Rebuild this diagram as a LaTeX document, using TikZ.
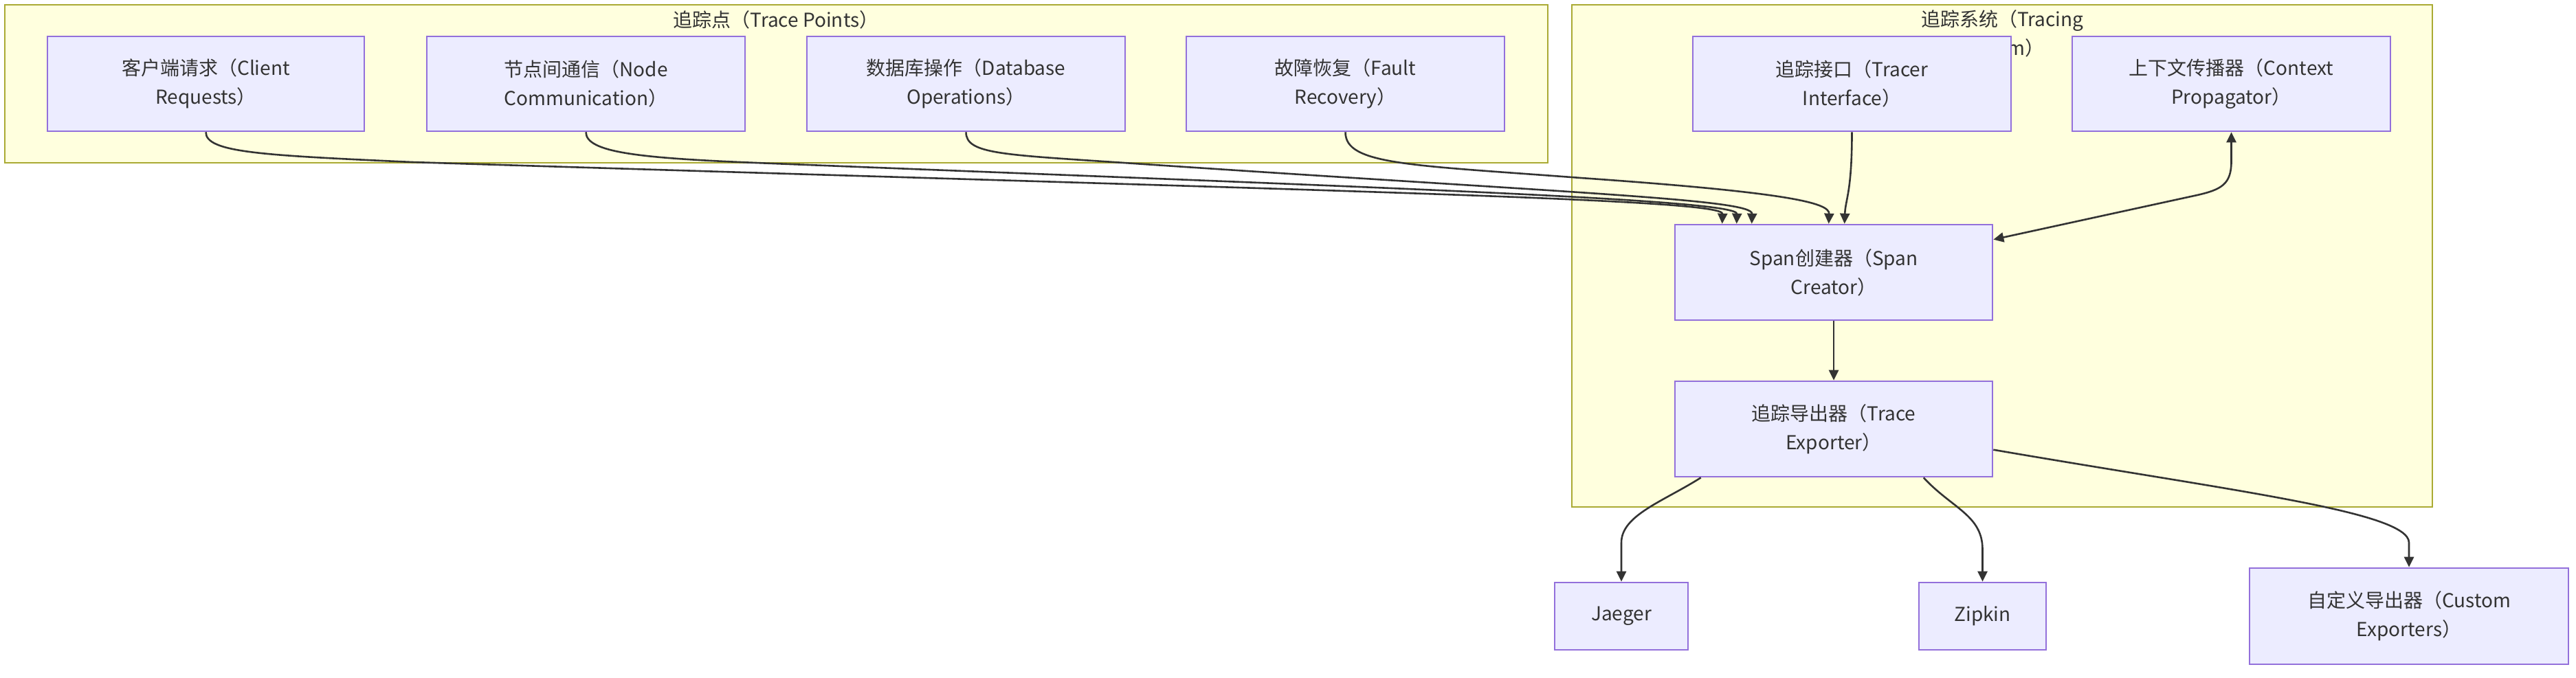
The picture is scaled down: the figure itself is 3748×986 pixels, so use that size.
\documentclass[tikz,border=0pt]{standalone}
\usepackage{fontspec}
\setmainfont{Noto Sans CJK SC}
\usetikzlibrary{arrows.meta}
\definecolor{clfill}{HTML}{FFFFDE}
\definecolor{cldraw}{HTML}{AAAA33}
\definecolor{ndfill}{HTML}{ECECFF}
\definecolor{nddraw}{HTML}{9370DB}
\definecolor{txt}{HTML}{333333}
\definecolor{edge}{HTML}{333333}
\tikzset{
  cluster/.style={fill=clfill, draw=cldraw, line width=2.4pt},
  cltitle/.style={text=txt, inner sep=0pt, align=center, font=\fontsize{28}{42}\selectfont},
  box/.style={fill=ndfill, draw=nddraw, line width=2.6pt, text=txt, align=center,
    inner sep=0pt, font=\fontsize{28}{42}\selectfont},
  conn/.style={draw=edge, line width=2.6pt, -{Triangle[length=15pt,width=14pt]}},
  conn2/.style={draw=edge, line width=2.6pt, {Triangle[length=15pt,width=14pt]}-{Triangle[length=15pt,width=14pt]}},
}
\begin{document}
\begin{tikzpicture}[x=1pt,y=-1pt]
\useasboundingbox (0,0) rectangle (3748,986);
\fill[white] (0,0) rectangle (3748,986);
% clusters
\draw[cluster] (7,7) rectangle (2252,237);
\node[cltitle] (t1) at (1129,29) {追踪点（Trace Points）};
\draw[cluster] (2287,7) rectangle (3539,738);
\node[cltitle] (t2) at (2913,51) {追踪系统（Tracing\\System）};
% nodes
\node[box, minimum width=461pt, minimum height=138pt] (cr) at (299.5,122) {客户端请求（Client\\Requests）};
\node[box, minimum width=463pt, minimum height=138pt] (nc) at (852.5,122) {节点间通信（Node\\Communication）};
\node[box, minimum width=463pt, minimum height=138pt] (db) at (1405.5,122) {数据库操作（Database\\Operations）};
\node[box, minimum width=463pt, minimum height=138pt] (fr) at (1957.5,122) {故障恢复（Fault\\Recovery）};
\node[box, minimum width=463pt, minimum height=138pt] (ti) at (2694.5,122) {追踪接口（Tracer\\Interface）};
\node[box, minimum width=463pt, minimum height=138pt] (cp) at (3246.5,122) {上下文传播器（Context\\Propagator）};
\node[box, minimum width=462pt, minimum height=139pt] (sc) at (2668,396.5) {Span创建器（Span\\Creator）};
\node[box, minimum width=462pt, minimum height=139pt] (te) at (2668,624.5) {追踪导出器（Trace\\Exporter）};
\node[box, minimum width=194pt, minimum height=98pt] (jg) at (2359,897) {Jaeger};
\node[box, minimum width=185pt, minimum height=98pt] (zk) at (2884.5,897) {Zipkin};
\node[box, minimum width=464pt, minimum height=140pt] (ce) at (3505,897) {自定义导出器（Custom\\Exporters）};
% edges
\draw[conn] (cr.south) .. controls (299.5,222) and (380,226) .. (600,236)
  .. controls (2000,280) and (2507,290) .. ([xshift=70pt]sc.north west);
\draw[conn] (nc.south) .. controls (852.5,222) and (930,230) .. (1100,237)
  .. controls (2000,273) and (2528,290) .. ([xshift=91pt]sc.north west);
\draw[conn] (db.south) .. controls (1405.5,225) and (1460,225) .. (1650,238)
  .. controls (2300,282) and (2550,290) .. ([xshift=113pt]sc.north west);
\draw[conn] (fr.south) .. controls (1957.5,240) and (2050,240) .. (2300,259)
  .. controls (2600,280) and (2662,295) .. ([xshift=225pt]sc.north west);
\draw[conn] (ti.south) .. controls (2694.5,280) and (2685,290) .. ([xshift=248pt]sc.north west);
\draw[conn2] (cp.south) -- (3246.5,235) .. controls (3246.5,268) and (3232,276) .. (3197,284)
  -- ([yshift=-23pt]sc.north east);
\draw[conn] (sc.south) -- (te.north);
\draw[conn] ([xshift=39pt]te.south west) .. controls (2420,730) and (2359,750) .. (2359,790) -- (jg.north);
\draw[conn] ([xshift=363pt]te.south west) .. controls (2840,740) and (2884.5,750) .. (2884.5,800) -- (zk.north);
\draw[conn] ([yshift=-101pt]te.north east) .. controls (3250,715) and (3505,745) .. (3505,790) -- (ce.north);
\end{tikzpicture}
\end{document}
